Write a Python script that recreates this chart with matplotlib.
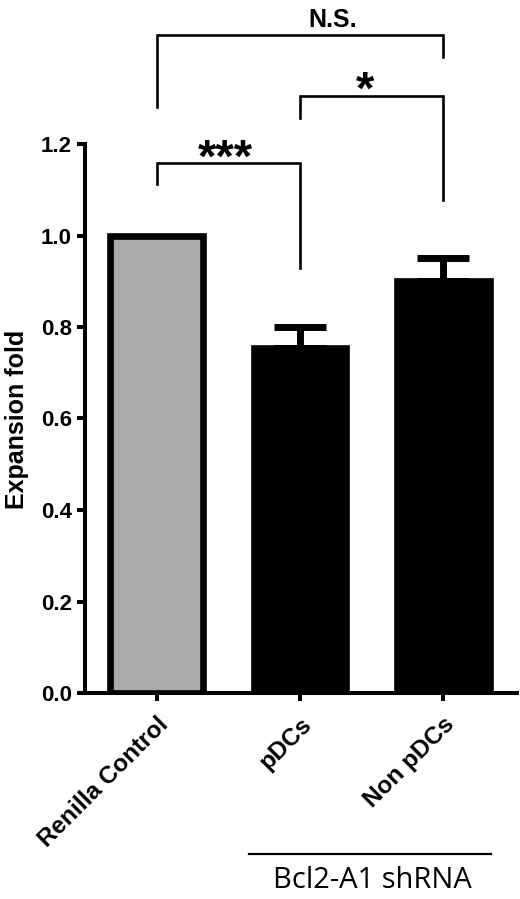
import numpy as np
import matplotlib.pyplot as plt

# Data
groups = ["Renilla Control", "pDCs", "Non pDCs"]
values = [1.0, 0.755, 0.90]
errors = [0.0, 0.045, 0.05]
colors = ["#aaaaaa", "black", "black"]

# significance brackets: (left group, right group, bar height, left leg end, right leg end, label)
brackets = [
    (0, 1, 1.158, 1.113, 0.929, "***"),
    (1, 2, 1.305, 1.257, 1.078, "*"),
    (0, 2, 1.438, 1.281, 1.390, "N.S."),
]
label_x = [0.48, 1.455, 1.23]
label_y = [1.1395, 1.288, 1.456]
label_size = [34, 34, 18]

plt.rcParams['font.family'] = ['Liberation Sans', 'DejaVu Sans']

fig = plt.figure(figsize=(5.2, 8.99), dpi=100)
ax = fig.add_axes([85 / 520, 1 - 693 / 899, (517 - 85) / 520, 693 / 899])

x = np.arange(len(groups))
ax.bar(x, values, width=0.65, color=colors, edgecolor="black", linewidth=4.8, zorder=2)
for xi, v, e in zip(x, values, errors):
    if e > 0:
        ax.errorbar(xi, v, yerr=[[0], [e]], fmt="none", ecolor="black",
                    elinewidth=5, capsize=19, capthick=5, zorder=3)

for (a, b, h, la, lb, txt), tx, ty, fs in zip(brackets, label_x, label_y, label_size):
    ax.plot([a, a, b, b], [la, h, h, lb], color="black", lw=1.9,
            solid_joinstyle="miter", clip_on=False)
    ax.text(tx, ty, txt, ha="center", va="baseline", fontsize=fs, fontweight="bold")

ax.set_xlim(-0.503, 2.517)
ax.set_ylim(0, 693 / 457.5)
ax.set_yticks(np.arange(0, 1.21, 0.2))
ax.set_yticklabels([f"{t:.1f}" for t in np.arange(0, 1.21, 0.2)])
ax.spines["left"].set_bounds(0, 1.2)
ax.spines["top"].set_visible(False)
ax.spines["right"].set_visible(False)
ax.spines["left"].set_linewidth(2.9)
ax.spines["bottom"].set_linewidth(2.9)
ax.tick_params(width=2.9, length=6, labelsize=16)
ax.tick_params(axis="x", pad=8)
for lab in ax.get_yticklabels():
    lab.set_fontweight("bold")
ax.set_xticks(x)
ax.set_xticklabels(groups, rotation=45, ha="right", rotation_mode="anchor",
                   fontsize=17.5, fontweight="bold")
ax.set_ylabel("Expansion fold", fontsize=18, fontweight="bold")
ax.yaxis.set_label_coords(-0.13, (693 - 419) / 693)

# group line under the shRNA bars
fig.add_artist(plt.Line2D([249 / 520, 491 / 520], [1 - 854 / 899] * 2,
                          color="black", lw=1.6))
fig.text(372 / 520, 1 - 880 / 899, "Bcl2-A1 shRNA", ha="center", va="center",
         fontsize=21, family=["Open Sans", "DejaVu Sans"])

fig.savefig("out.png", dpi=100)
